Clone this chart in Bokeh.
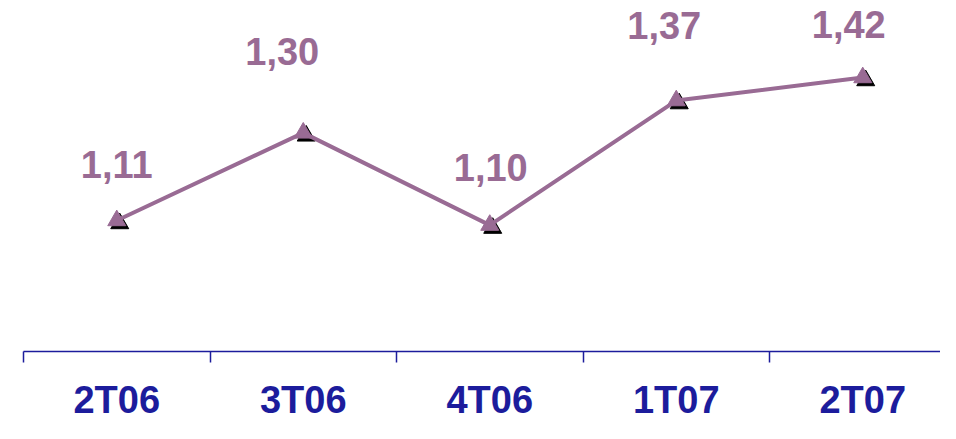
from bokeh.plotting import figure
from bokeh.models import Range1d, FixedTicker, ColumnDataSource
from bokeh.transform import dodge
from bokeh.core.properties import value
from bokeh.embed import file_html
from bokeh.resources import INLINE

# data
quarters = ["2T06", "3T06", "4T06", "1T07", "2T07"]
ratios = [1.11, 1.30, 1.10, 1.37, 1.42]
ratio_labels = ["1,11", "1,30", "1,10", "1,37", "1,42"]

# label nudges (screen px), styling only
label_dx = [0, -21, 1, -12, -14]
label_dy = [-56, -81, -58, -75, -53]

PURPLE = "#996B94"
NAVY = "#1C1C9C"

xs = [i + 0.5 for i in range(len(quarters))]
src = ColumnDataSource(dict(x=xs, y=ratios, lab=ratio_labels, dx=label_dx, dy=label_dy))

p = figure(width=940, height=423, output_backend="svg", toolbar_location=None,
           x_range=Range1d(0, 917 / 186.5), y_range=Range1d(0.826, 1.587),
           min_border_left=23, min_border_right=0, min_border_top=0, min_border_bottom=0)
p.outline_line_color = None
p.background_fill_color = "white"
p.border_fill_color = "white"
p.xgrid.visible = False
p.ygrid.visible = False
p.yaxis.visible = False

ax = p.xaxis[0]
ax.ticker = FixedTicker(ticks=xs, minor_ticks=list(range(len(quarters) + 1)))
ax.major_label_overrides = {x: q for x, q in zip(xs, quarters)}
ax.major_tick_line_color = None
ax.major_tick_out = 0
ax.major_tick_in = 0
ax.minor_tick_out = 11
ax.minor_tick_in = 0
ax.minor_tick_line_color = NAVY
ax.minor_tick_line_width = 1.5
ax.axis_line_color = NAVY
ax.axis_line_width = 1.5
ax.major_label_standoff = 16
ax.major_label_text_font = "Liberation Sans"
ax.major_label_text_font_style = "bold"
ax.major_label_text_font_size = "38px"
ax.major_label_text_color = NAVY

p.scatter(x=dodge("x", 0.016, range=p.x_range), y=dodge("y", -0.0065, range=p.y_range), source=src,
          marker="triangle", size=18, fill_color="black", line_color="black")
p.line(x="x", y="y", source=src, line_color=PURPLE, line_width=4)
p.scatter(x="x", y="y", source=src, marker="triangle", size=18, fill_color=PURPLE, line_color=PURPLE)
p.text(x="x", y="y", text="lab", source=src, x_offset="dx", y_offset="dy",
       text_align="center", text_baseline="alphabetic",
       text_font=value("Liberation Sans"), text_font_style="bold", text_font_size="38px",
       text_color=PURPLE)

open("out.html", "w").write(file_html(p, INLINE))
